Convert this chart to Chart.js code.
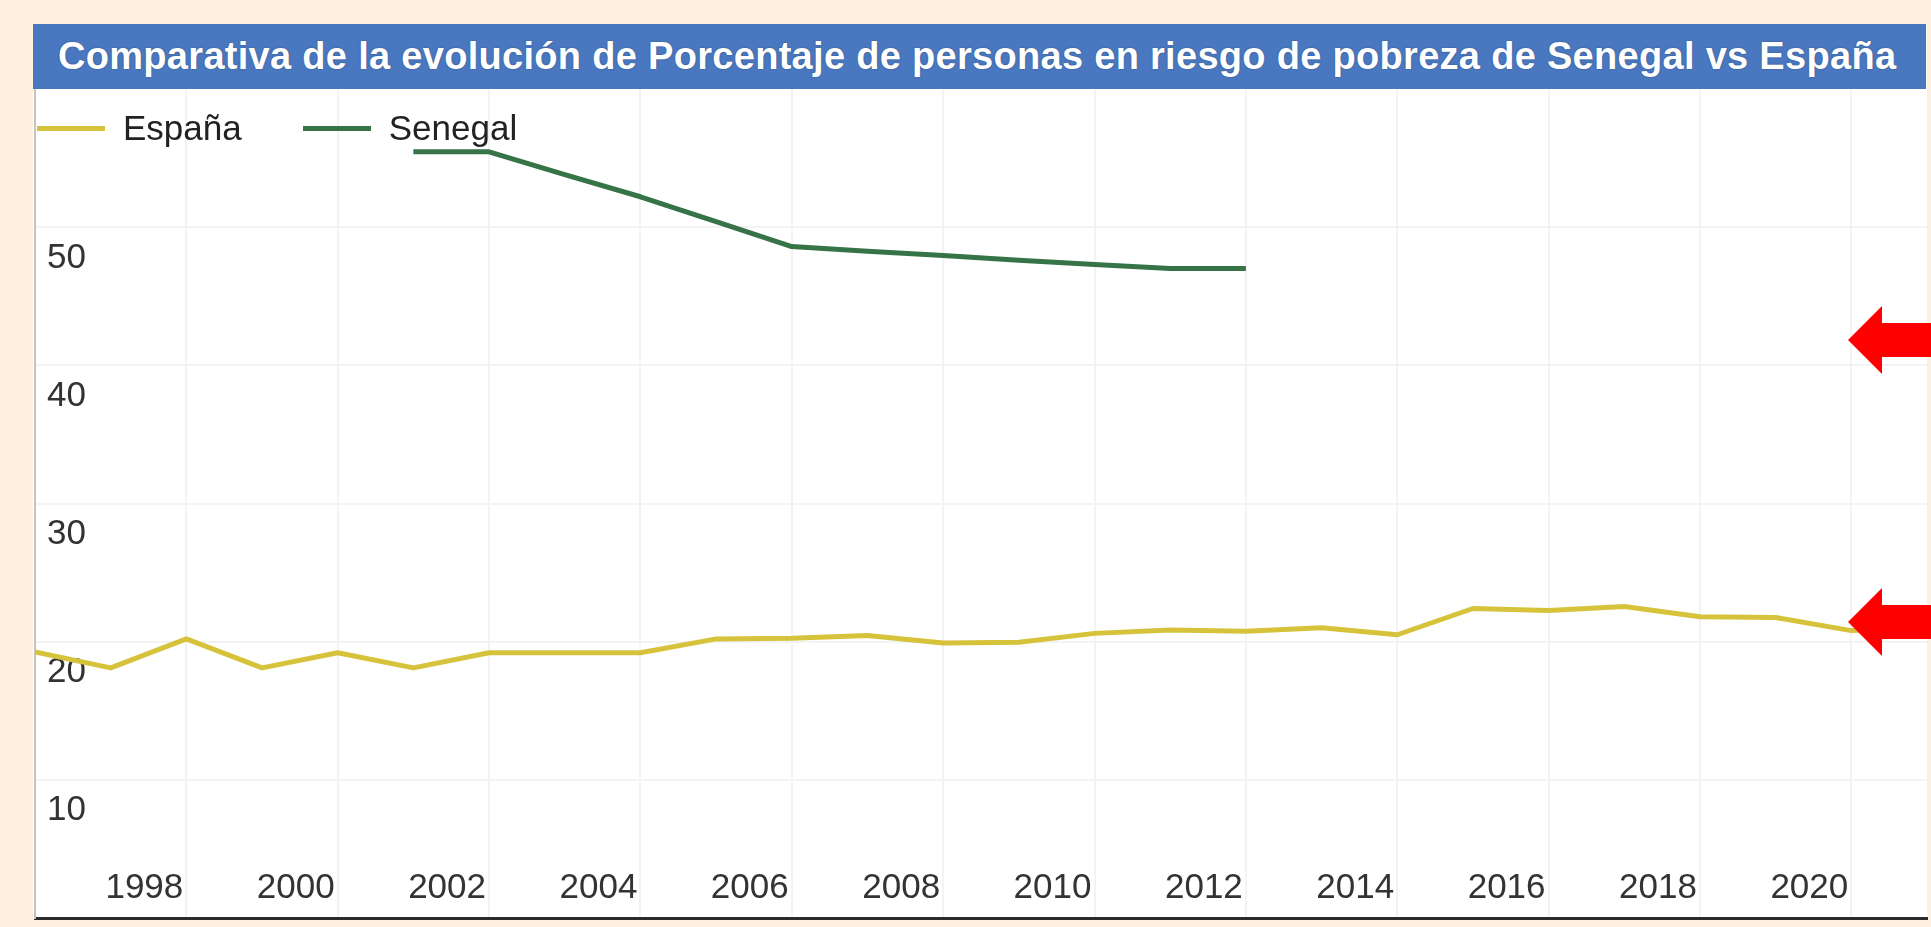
<!DOCTYPE html>
<html lang="es">
<head>
<meta charset="utf-8">
<title>Senegal vs España</title>
<script src="https://cdn.jsdelivr.net/npm/chart.js@4.4.1/dist/chart.umd.min.js"></script>
<style>
  body {
    margin: 0;
    width: 1931px;
    height: 927px;
    overflow: hidden;
    position: relative;
    background: #fdf0df;
    font-family: 'Liberation Sans', Arial, sans-serif;
  }
  #panel {
    position: absolute;
    left: 33px;
    top: 24px;
    width: 1894px;
    height: 894px;
    background: #fff;
  }
  #titulo {
    position: absolute;
    left: 33px;
    top: 24px;
    width: 1893px;
    height: 65px;
    box-sizing: border-box;
    padding-left: 25px;
    background: #4a78c0;
    color: #fff;
    font-weight: bold;
    font-size: 38px;
    letter-spacing: 0.3px;
    line-height: 65px;
    white-space: nowrap;
    text-shadow: 0 0 2px rgba(0, 0, 0, 0.35);
  }
  #grafico {
    position: absolute;
    left: 0;
    top: 0;
  }
  #leyenda {
    position: absolute;
    left: 37px;
    top: 108px;
    height: 40px;
    display: flex;
    align-items: center;
    font-size: 35px;
    line-height: 40px;
    color: #222;
  }
  #leyenda .item { display: flex; align-items: center; margin-right: 61px; }
  #leyenda .linea { width: 68px; height: 5px; margin-right: 18px; }
  .flecha {
    position: absolute;
    left: 1848px;
    width: 83px;
    height: 68px;
    background: #ff0000;
    clip-path: polygon(0 50%, 34px 0, 34px 17px, 83px 17px, 83px 51px, 34px 51px, 34px 100%);
  }
</style>
</head>
<body>
<div id="panel"></div>
<canvas id="grafico" width="1931" height="927"></canvas>
<div id="titulo">Comparativa de la evolución de Porcentaje de personas en riesgo de pobreza de Senegal vs España</div>
<div id="leyenda"></div>
<div class="flecha" style="top:306px"></div>
<div class="flecha" style="top:588px"></div>
<script>
// Datos
const aniosEspana = [1996, 1997, 1998, 1999, 2000, 2001, 2002, 2003, 2004, 2005, 2006, 2007, 2008,
                     2009, 2010, 2011, 2012, 2013, 2014, 2015, 2016, 2017, 2018, 2019, 2020, 2021];
const valoresEspana = [19.25, 18.1, 20.2, 18.1, 19.2, 18.1, 19.2, 19.2, 19.2, 20.2, 20.25, 20.45, 19.9,
                       19.95, 20.6, 20.85, 20.75, 21.0, 20.5, 22.4, 22.25, 22.55, 21.8, 21.75, 20.8, 21.0];

const aniosSenegal = [2001, 2002, 2003, 2004, 2005, 2006, 2007, 2008, 2009, 2010, 2011, 2012];
const valoresSenegal = [55.45, 55.45, 53.8, 52.2, 50.4, 48.6, 48.25, 47.95, 47.6, 47.3, 47.0, 47.0];

const ticksX = [1998, 2000, 2002, 2004, 2006, 2008, 2010, 2012, 2014, 2016, 2018, 2020];
const ticksY = [10, 20, 30, 40, 50];

const series = [
  { nombre: 'España', anios: aniosEspana, valores: valoresEspana, color: '#d6c33b' },
  { nombre: 'Senegal', anios: aniosSenegal, valores: valoresSenegal, color: '#367447' }
];

const fuente = "'Liberation Sans', Arial, sans-serif";

const ctx = document.getElementById('grafico').getContext('2d');
new Chart(ctx, {
  type: 'line',
  data: {
    datasets: series.map(s => ({
      label: s.nombre,
      data: s.anios.map((a, i) => ({ x: a, y: s.valores[i] })),
      borderColor: s.color,
      backgroundColor: s.color,
      borderWidth: 5,
      borderJoinStyle: 'round',
      pointRadius: 0,
      tension: 0,
      fill: false
    }))
  },
  options: {
    responsive: false,
    animation: false,
    layout: { padding: { left: 35, right: 4, top: 89, bottom: 9 } },
    plugins: {
      legend: { display: false },
      tooltip: { enabled: false }
    },
    scales: {
      x: {
        type: 'linear',
        min: 1996,
        max: 2021,
        afterBuildTicks: axis => { axis.ticks = ticksX.map(v => ({ value: v })); },
        afterFit: axis => {
          axis.height = 0;
          axis.paddingLeft = 0;
          axis.paddingRight = 0;
        },
        grid: { color: '#f3f3f3', lineWidth: 2, drawTicks: false },
        border: { display: true, color: '#2b2b2b', width: 3 },
        ticks: {
          // etiquetas dentro del área, encima del eje
          mirror: true,
          padding: 9,
          labelOffset: -42,
          maxRotation: 0,
          autoSkip: false,
          color: '#333',
          font: { size: 35, family: fuente },
          callback: v => String(v)
        }
      },
      y: {
        min: 0,
        max: 60,
        afterBuildTicks: axis => { axis.ticks = ticksY.map(v => ({ value: v })); },
        afterFit: axis => {
          axis.width = 0;
          axis.paddingTop = 0;
          axis.paddingBottom = 0;
        },
        grid: { color: '#f3f3f3', lineWidth: 2, drawTicks: false },
        border: { display: true, color: '#c4c4c4', width: 2 },
        ticks: {
          mirror: true,
          padding: 12,
          labelOffset: 31,
          color: '#333',
          font: { size: 35, family: fuente },
          callback: v => String(v)
        }
      }
    }
  }
});

// Leyenda en HTML, sobre el área del gráfico
const leyenda = document.getElementById('leyenda');
series.forEach(s => {
  const item = document.createElement('div');
  item.className = 'item';
  item.innerHTML = `<div class="linea" style="background:${s.color}"></div><span>${s.nombre}</span>`;
  leyenda.appendChild(item);
});
</script>
</body>
</html>
